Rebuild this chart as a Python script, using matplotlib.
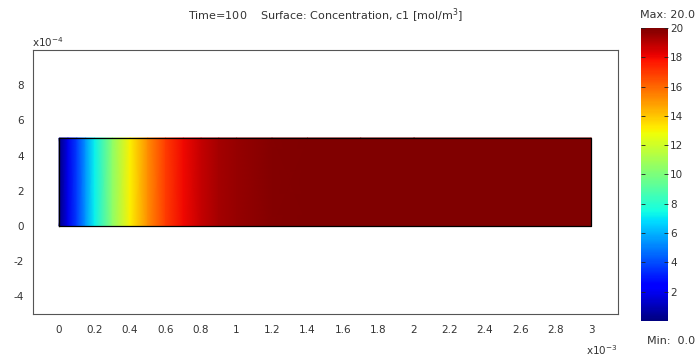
import numpy as np
import matplotlib
matplotlib.use('Agg')
import matplotlib.pyplot as plt

# concentration along the strip at t=100 (mol/m^3), read along x (m)
x_pos = np.array([0, 0.05, 0.1, 0.15, 0.2, 0.3, 0.4, 0.5, 0.6, 0.7,
                  0.8, 0.9, 1.0, 1.2, 1.4, 1.7, 2.0, 3.0]) * 1e-3
conc = np.array([0, 1.9, 3.7, 5.5, 7.2, 10.4, 13.1, 15.2, 16.9, 18.0,
                 18.8, 19.3, 19.6, 19.9, 20.0, 20.0, 20.0, 20.0])

# strip geometry
y_edges = np.array([0, 5e-4])

xticks = np.arange(0, 3.01, 0.2) * 1e-3
xticklabels = ['0', '0.2', '0.4', '0.6', '0.8', '1', '1.2', '1.4', '1.6',
               '1.8', '2', '2.2', '2.4', '2.6', '2.8', '3']
yticks = np.arange(-4, 9, 2) * 1e-4
yticklabels = ['-4', '-2', '0', '2', '4', '6', '8']
cbticks = np.arange(2, 21, 2)

txt = '#333333'
plt.rcParams['font.family'] = 'DejaVu Sans'
plt.rcParams['font.size'] = 7.5

fig = plt.figure(figsize=(6.97, 3.58), dpi=100)
ax = fig.add_axes([32.5/697, 1-314/358, (618-32.5)/697, (314-50)/358])

X, Y = np.meshgrid(x_pos, y_edges)
Z = np.vstack([conc, conc])
mesh = ax.pcolormesh(X, Y, Z, cmap='jet', vmin=0, vmax=20, shading='gouraud')
ax.plot([0, 3e-3, 3e-3, 0, 0], [0, 0, 5e-4, 5e-4, 0], color='black', lw=0.9)

ax.set_xlim(-0.15e-3, 3.15e-3)
ax.set_ylim(-5e-4, 10e-4)
ax.set_xticks(xticks)
ax.set_xticklabels(xticklabels, color=txt)
ax.set_yticks(yticks)
ax.set_yticklabels(yticklabels, color=txt)
ax.tick_params(axis='x', length=0, pad=8)
ax.tick_params(axis='y', length=0, pad=6)
for s in ax.spines.values():
    s.set_color('#555555')
    s.set_linewidth(0.8)

ax.text(0, 1.005, r'x10$^{-4}$', transform=ax.transAxes, color=txt,
        ha='left', va='bottom')
ax.text(1.0, -0.11, r'x10$^{-3}$', transform=ax.transAxes, color=txt,
        ha='right', va='top')
fig.text(325/697, 1-16/358,
         'Time=100    Surface: Concentration, c1 [mol/m$^3$]',
         ha='center', va='center', color=txt, fontsize=8)

# colour scale
cax = fig.add_axes([640.5/697, 1-321/358, 27/697, (321-28)/358])
cb = fig.colorbar(mesh, cax=cax, ticks=cbticks)
cb.outline.set_visible(False)
cax.tick_params(which='both', direction='in', length=3, width=0.6,
                colors='#222222', labelcolor=txt, left=True, right=True,
                pad=2)
fig.text(1-2/697, 1-15/358, 'Max: 20.0', ha='right', va='center',
         color=txt, fontsize=8)
fig.text(1-2/697, 1-341/358, 'Min:  0.0', ha='right', va='center',
         color=txt, fontsize=8)

plt.savefig('out.png', dpi=100)
